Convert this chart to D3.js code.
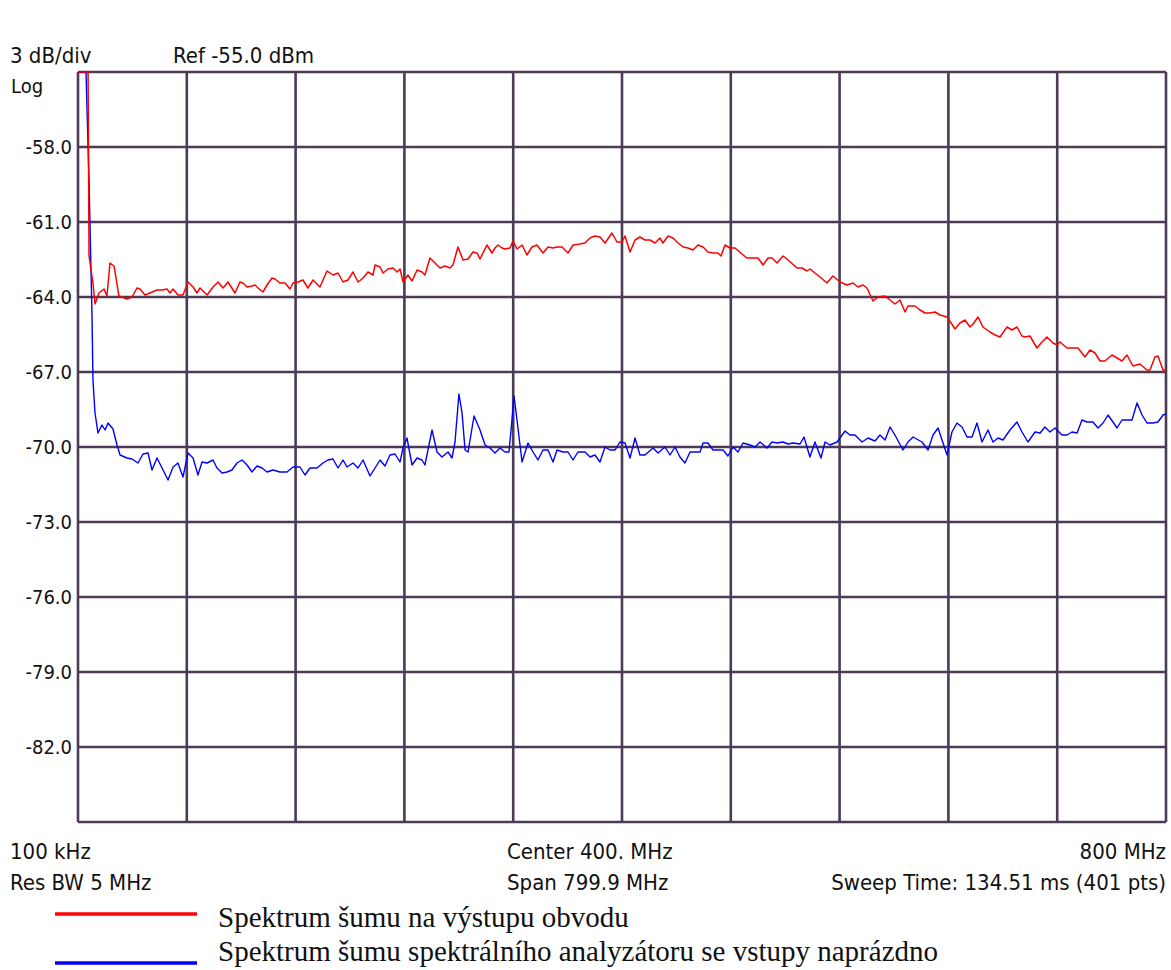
<!DOCTYPE html>
<html>
<head>
<meta charset="utf-8">
<script src="https://cdn.jsdelivr.net/npm/d3@7"></script>
<style>
  body { margin: 0; background: #fff; }
  svg text { font-family: "DejaVu Sans Condensed", "DejaVu Sans", sans-serif; fill: #111; }
  .legend text { font-family: "Liberation Serif", "Times New Roman", serif; }
</style>
</head>
<body>
<div id="chart"></div>
<script>
// frequency axis (MHz) and amplitude axis (dBm)
var freqTicks = [0, 80, 160, 240, 320, 400, 480, 560, 640, 720, 800];
var dbTicks = [-55, -58, -61, -64, -67, -70, -73, -76, -79, -82, -85];

// red trace: noise spectrum on circuit output
var redFreq = [0, 7.4, 8.1, 11.0, 12.5, 15.4, 19.1, 21.3, 23.5, 26.5, 30.1, 36.0, 39.7, 43.4, 45.6, 49.3, 52.9, 58.1, 61.8, 65.4,
    67.6, 69.9, 73.5, 77.2, 80.9, 84.6, 87.5, 89.7, 94.9, 99.3, 103.0, 106.6, 110.3, 115.4, 119.1, 121.3, 124.3, 127.9, 130.1, 132.4,
    136.0, 139.0, 142.6, 144.9, 148.5, 152.2, 155.9, 158.1, 161.8, 165.4, 169.1, 172.8, 177.9, 183.1, 187.5, 191.2, 194.9, 198.5, 202.2, 205.9,
    209.6, 213.2, 216.9, 218.4, 222.1, 224.3, 227.9, 231.6, 234.6, 236.8, 239.0, 242.6, 245.6, 249.3, 252.9, 255.1, 258.8, 262.5, 266.2, 269.9,
    273.5, 275.7, 279.4, 283.1, 286.8, 290.4, 293.4, 295.6, 300.7, 304.4, 306.6, 308.8, 311.8, 314.0, 317.6, 319.9, 322.8, 326.5, 330.1, 333.8,
    337.5, 341.9, 345.6, 349.3, 352.2, 355.9, 360.3, 364.0, 369.1, 372.8, 376.5, 380.1, 383.8, 387.5, 392.6, 396.3, 400.0, 402.2, 405.9, 409.6,
    413.2, 416.9, 420.6, 424.3, 427.9, 430.1, 433.8, 437.5, 441.2, 444.9, 448.5, 452.2, 455.9, 459.6, 463.2, 466.9, 470.6, 472.8, 475.7, 479.4,
    483.1, 488.2, 491.9, 496.3, 500.0, 503.7, 507.4, 510.3, 514.0, 518.4, 522.1, 528.7, 532.4, 536.0, 538.2, 541.9, 545.6, 550.7, 555.1, 560.3,
    565.4, 569.9, 573.5, 577.2, 580.1, 584.6, 588.2, 593.4, 597.1, 600.7, 604.4, 608.1, 610.3, 615.4, 619.1, 622.8, 626.5, 630.1, 633.8, 639.0,
    644.9, 648.5, 652.2, 655.9, 658.1, 661.8, 665.4, 670.6, 674.3, 677.9, 683.1, 686.8, 690.4, 694.1, 696.3, 700.0, 705.1, 708.8, 712.5, 716.9,
    719.9, 722.1, 727.2, 731.6, 735.3, 740.4, 744.1, 747.8, 751.5, 755.1, 760.3, 764.0, 767.6, 771.3, 775.7, 780.9, 786.0, 788.2, 791.9, 794.1,
    797.8, 800.0];
var redDb = [-55.0, -55.0, -62.36, -63.44, -64.28, -63.84, -63.68, -63.96, -62.64, -62.76, -63.96, -64.08, -64.0, -63.64, -63.68, -63.92, -63.84, -63.72, -63.72, -63.68,
    -63.84, -63.68, -63.92, -63.92, -63.40, -63.60, -63.84, -63.64, -63.92, -63.60, -63.40, -63.64, -63.40, -63.84, -63.40, -63.44, -63.60, -63.56, -63.52, -63.64,
    -63.80, -63.52, -63.24, -63.28, -63.44, -63.44, -63.68, -63.44, -63.40, -63.32, -63.64, -63.32, -63.60, -62.96, -63.12, -63.04, -63.40, -63.32, -63.00, -63.40,
    -63.24, -63.00, -63.12, -62.72, -62.80, -63.04, -62.88, -62.84, -63.00, -62.88, -63.40, -63.12, -63.36, -62.92, -63.00, -63.12, -62.44, -62.64, -62.84, -62.76,
    -62.84, -62.72, -62.00, -62.52, -62.48, -62.20, -62.24, -62.48, -61.92, -62.24, -62.04, -61.92, -62.04, -62.08, -62.04, -61.76, -62.08, -61.92, -62.32, -62.00,
    -61.92, -62.24, -62.00, -62.04, -62.00, -62.00, -62.24, -61.92, -61.88, -61.84, -61.64, -61.56, -61.60, -61.84, -61.44, -61.80, -61.80, -61.56, -62.20, -61.72,
    -61.60, -61.72, -61.72, -61.84, -61.64, -61.84, -61.56, -61.64, -61.84, -62.00, -62.04, -62.12, -61.92, -62.00, -62.20, -62.24, -62.24, -62.36, -61.92, -62.04,
    -62.04, -62.28, -62.44, -62.44, -62.44, -62.72, -62.44, -62.44, -62.64, -62.36, -62.52, -62.84, -62.84, -62.96, -62.88, -63.04, -63.20, -63.44, -63.16, -63.40,
    -63.52, -63.44, -63.60, -63.52, -63.64, -64.16, -64.00, -63.96, -64.12, -64.28, -64.12, -64.60, -64.36, -64.36, -64.52, -64.64, -64.64, -64.60, -64.72, -64.80,
    -65.28, -65.04, -64.92, -65.20, -65.08, -64.80, -65.20, -65.40, -65.52, -65.60, -65.20, -65.32, -65.20, -65.56, -65.60, -65.56, -66.04, -65.80, -65.60, -65.84,
    -65.92, -65.80, -66.04, -66.04, -66.04, -66.40, -66.12, -66.24, -66.56, -66.56, -66.32, -66.44, -66.56, -66.32, -66.76, -66.68, -66.92, -66.92, -66.40, -66.36,
    -66.92, -66.92];

// blue trace: analyzer noise floor with open inputs
var blueFreq = [0, 5.9, 6.6, 8.1, 8.8, 10.3, 11.0, 12.5, 14.7, 17.6, 19.9, 22.1, 25.7, 28.7, 30.9, 36.0, 39.7, 44.1, 47.8, 51.5,
    54.4, 58.1, 61.8, 66.2, 69.9, 73.5, 77.2, 80.9, 84.6, 88.2, 91.2, 94.9, 99.3, 102.2, 105.9, 109.6, 113.2, 116.9, 120.6, 124.3,
    127.9, 131.6, 135.3, 139.0, 143.4, 148.5, 153.7, 158.1, 163.2, 166.9, 170.6, 175.7, 180.1, 183.8, 187.5, 191.2, 194.9, 197.8, 202.2, 205.9,
    209.6, 214.7, 218.4, 222.1, 225.7, 229.4, 233.1, 236.8, 239.0, 241.9, 245.6, 249.3, 252.9, 255.1, 260.3, 264.0, 267.6, 272.1, 275.0, 277.2,
    280.1, 282.4, 284.6, 286.8, 291.2, 295.6, 299.3, 302.9, 306.6, 310.3, 314.0, 316.9, 319.1, 320.6, 322.8, 326.5, 330.9, 334.6, 338.2, 341.9,
    345.6, 349.3, 352.2, 356.6, 360.3, 364.0, 367.6, 372.8, 376.5, 380.1, 383.8, 387.5, 391.2, 394.9, 398.5, 402.2, 405.9, 409.6, 413.2, 416.9,
    422.8, 426.5, 431.6, 435.3, 439.0, 442.6, 446.3, 450.0, 453.7, 457.4, 459.6, 463.2, 466.9, 470.6, 474.3, 477.9, 481.6, 485.3, 489.0, 494.1,
    497.8, 501.5, 506.6, 510.3, 514.0, 518.4, 522.1, 525.7, 530.9, 533.8, 538.2, 541.9, 546.3, 549.3, 552.9, 558.1, 564.0, 567.6, 571.3, 576.5,
    580.9, 586.0, 589.7, 593.4, 597.1, 600.7, 606.6, 610.3, 614.0, 620.6, 625.0, 628.7, 632.4, 635.3, 639.0, 642.6, 646.3, 650.0, 653.7, 657.4,
    661.0, 664.7, 669.1, 672.8, 676.5, 680.1, 685.3, 690.4, 694.1, 698.5, 703.7, 707.4, 711.0, 714.7, 718.4, 723.5, 727.2, 730.9, 734.6, 738.2,
    741.9, 746.3, 750.0, 753.7, 757.4, 761.0, 764.0, 767.6, 775.0, 778.7, 782.4, 786.0, 790.4, 794.1, 797.8, 800.0];
var blueDb = [-55.0, -55.0, -56.44, -59.32, -61.04, -64.76, -67.32, -68.64, -69.44, -69.12, -69.32, -69.04, -69.28, -69.92, -70.32, -70.44, -70.48, -70.64, -70.28, -70.24,
    -70.92, -70.44, -70.84, -71.32, -70.80, -70.64, -71.20, -70.24, -70.44, -71.12, -70.60, -70.64, -70.52, -70.84, -71.04, -71.00, -70.92, -70.64, -70.52, -70.72,
    -71.00, -70.76, -70.84, -71.00, -70.92, -71.00, -71.00, -70.80, -70.80, -71.12, -70.84, -70.84, -70.64, -70.52, -70.48, -70.84, -70.52, -70.80, -70.64, -70.84,
    -70.52, -71.16, -70.84, -70.52, -70.76, -70.32, -70.28, -70.60, -70.04, -69.64, -70.72, -70.44, -70.52, -70.72, -69.32, -70.20, -70.40, -70.20, -70.44, -69.80,
    -67.88, -68.64, -70.12, -70.20, -68.76, -69.32, -69.92, -70.04, -70.24, -70.04, -70.20, -70.20, -68.92, -67.96, -68.92, -70.60, -69.84, -70.20, -70.52, -70.12,
    -70.12, -70.60, -70.12, -70.20, -70.20, -70.52, -70.20, -70.20, -70.40, -70.32, -70.60, -70.00, -70.12, -70.12, -69.80, -69.84, -70.44, -69.64, -70.32, -70.32,
    -70.04, -70.24, -70.00, -70.32, -70.00, -70.40, -70.64, -70.20, -70.20, -70.20, -69.84, -69.84, -70.12, -70.12, -70.12, -70.36, -70.00, -70.20, -69.84, -69.92,
    -70.00, -69.80, -70.04, -69.80, -69.84, -69.80, -69.88, -69.84, -69.88, -69.60, -70.40, -69.80, -70.44, -69.80, -69.92, -69.80, -69.36, -69.52, -69.52, -69.80,
    -69.64, -69.76, -69.52, -69.72, -69.20, -69.52, -70.12, -69.80, -69.60, -69.80, -70.12, -69.52, -69.24, -69.72, -70.32, -69.40, -69.04, -69.20, -69.60, -69.60,
    -69.04, -69.80, -69.32, -69.80, -69.64, -69.72, -69.32, -69.00, -69.40, -69.80, -69.40, -69.44, -69.20, -69.40, -69.24, -69.52, -69.52, -69.40, -69.44, -68.92,
    -69.00, -69.00, -69.24, -69.04, -68.72, -69.00, -69.24, -68.92, -68.92, -68.24, -68.72, -69.04, -69.04, -69.00, -68.72, -68.68];

var legendLabels = ["Spektrum šumu na výstupu obvodu", "Spektrum šumu spektrálního analyzátoru se vstupy naprázdno"];
var legendColors = ["#ff0000", "#0000ff"];

var width = 1171, height = 970;
var plot = {left: 78, right: 1166, top: 72, bottom: 822};
var gridColor = "#4d3a55";

var svg = d3.select("#chart").append("svg")
    .attr("width", width)
    .attr("height", height);

var x = d3.scaleLinear().domain([0, 800]).range([plot.left, plot.right]);
var y = d3.scaleLinear().domain([-85, -55]).range([plot.bottom, plot.top]);

// grid
var grid = svg.append("g");
grid.selectAll(".vgrid")
    .data(freqTicks)
    .enter()
    .append("line")
    .attr("x1", function (d) { return x(d); })
    .attr("x2", function (d) { return x(d); })
    .attr("y1", plot.top)
    .attr("y2", plot.bottom)
    .attr("stroke", gridColor)
    .attr("stroke-width", 2.6);
grid.selectAll(".hgrid")
    .data(dbTicks)
    .enter()
    .append("line")
    .attr("x1", plot.left)
    .attr("x2", plot.right)
    .attr("y1", function (d) { return y(d); })
    .attr("y2", function (d) { return y(d); })
    .attr("stroke", gridColor)
    .attr("stroke-width", 2.6);

// y labels (skip the ref line and the bottom line), plain hyphen like the analyzer
svg.append("g").selectAll("text")
    .data(dbTicks.filter(function (d) { return d !== -55 && d !== -85; }))
    .enter()
    .append("text")
    .attr("x", 72)
    .attr("y", function (d) { return y(d) + 7; })
    .attr("text-anchor", "end")
    .style("font-size", "20px")
    .text(function (d) { return d.toFixed(1); });

// header
svg.append("text").attr("x", 10).attr("y", 63).style("font-size", "22px").text("3 dB/div");
svg.append("text").attr("x", 173).attr("y", 63).style("font-size", "22px").text("Ref -55.0 dBm");
svg.append("text").attr("x", 11).attr("y", 93).style("font-size", "20px").text("Log");

// footer
var footer = [
    {t: "100 kHz", x: 10, y: 859, a: "start"},
    {t: "Res BW 5 MHz", x: 10, y: 890, a: "start"},
    {t: "Center 400. MHz", x: 507, y: 859, a: "start"},
    {t: "Span 799.9 MHz", x: 507, y: 890, a: "start"},
    {t: "800 MHz", x: 1166, y: 859, a: "end"},
    {t: "Sweep Time: 134.51 ms (401 pts)", x: 1166, y: 890, a: "end"}
];
svg.append("g").selectAll("text")
    .data(footer)
    .enter()
    .append("text")
    .attr("x", function (d) { return d.x; })
    .attr("y", function (d) { return d.y; })
    .attr("text-anchor", function (d) { return d.a; })
    .style("font-size", "22px")
    .text(function (d) { return d.t; });

// traces
var line = d3.line()
    .x(function (d) { return x(d[0]); })
    .y(function (d) { return y(d[1]); });

var blueData = d3.zip(blueFreq, blueDb);
var redData = d3.zip(redFreq, redDb);

svg.append("path")
    .datum(blueData)
    .attr("d", line)
    .attr("fill", "none")
    .attr("stroke", "#0000ff")
    .attr("stroke-width", 1.4)
    .attr("stroke-linejoin", "round");

svg.append("path")
    .datum(redData)
    .attr("d", line)
    .attr("fill", "none")
    .attr("stroke", "#ff0000")
    .attr("stroke-width", 1.5)
    .attr("stroke-linejoin", "round");

// legend
var legend = svg.append("g").attr("class", "legend");
var rows = legend.selectAll("g")
    .data(legendLabels)
    .enter()
    .append("g");
rows.append("line")
    .attr("x1", 55)
    .attr("x2", 197)
    .attr("y1", function (d, i) { return i === 0 ? 914 : 963; })
    .attr("y2", function (d, i) { return i === 0 ? 914 : 963; })
    .attr("stroke", function (d, i) { return legendColors[i]; })
    .attr("stroke-width", 3.5);
rows.append("text")
    .attr("x", 218)
    .attr("y", function (d, i) { return i === 0 ? 927 : 961; })
    .style("font-size", "29px")
    .text(function (d) { return d; });
</script>
</body>
</html>
